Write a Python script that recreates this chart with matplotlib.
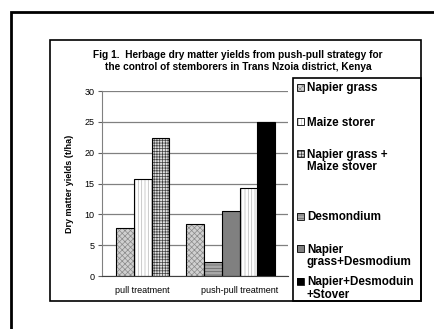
import matplotlib.pyplot as plt
from matplotlib.patches import Rectangle

plt.rcParams['font.family'] = ['Liberation Sans', 'DejaVu Sans']
plt.rcParams['hatch.linewidth'] = 0.5

# yields (t/ha) per treatment
pull_names = ["Napier grass", "Maize storer", "Napier grass + Maize stover"]
pull_vals = [7.8, 15.7, 22.4]
push_names = ["Napier grass", "Desmondium", "Napier grass+Desmodium",
              "Maize storer", "Napier+Desmoduin +Stover"]
push_vals = [8.4, 2.3, 10.6, 14.2, 24.9]
categories = ["pull treatment", "push-pull treatment"]

legend_keys = ["Napier grass", "Maize storer", "Napier grass + Maize stover",
               "Desmondium", "Napier grass+Desmodium", "Napier+Desmoduin +Stover"]
legend_lines = [["Napier grass"], ["Maize storer"], ["Napier grass +", "Maize stover"],
                ["Desmondium"], ["Napier", "grass+Desmodium"], ["Napier+Desmoduin", "+Stover"]]

# face colour, hatch, hatch colour
styles = {
    "Napier grass": ("#d0d0d0", "xxxxxx", "#8a8a8a"),
    "Maize storer": ("#ffffff", "|||||", "#b8b8b8"),
    "Napier grass + Maize stover": ("#e0e0e0", "++++++", "#404040"),
    "Desmondium": ("#a8a8a8", "-----", "#606060"),
    "Napier grass+Desmodium": ("#808080", "", "#808080"),
    "Napier+Desmoduin +Stover": ("#000000", "", "#000000"),
}

W, H = 435, 329
fig = plt.figure(figsize=(W / 100, H / 100), dpi=100)


def fx(px):
    return px / W


def fy(py):
    return 1 - py / H


# frames
fig.patches.append(Rectangle((fx(11), fy(340)), fx(440) - fx(11), fy(12) - fy(340),
                             transform=fig.transFigure, fill=False, lw=2.0, ec='black'))
fig.patches.append(Rectangle((fx(50), fy(301)), fx(421) - fx(50), fy(40) - fy(301),
                             transform=fig.transFigure, fill=False, lw=1.2, ec='black'))
fig.patches.append(Rectangle((fx(293), fy(301)), fx(421) - fx(293), fy(78) - fy(301),
                             transform=fig.transFigure, fill=False, lw=1.2, ec='black'))

ax = fig.add_axes([fx(101.7), fy(276), fx(288) - fx(101.7), fy(91) - fy(276)])

width = 0.19


def draw(start, names, vals):
    for i, (n, v) in enumerate(zip(names, vals)):
        face, hatch, hc = styles[n]
        x = start + i * width
        ax.bar(x, v, width, align='edge', color=face, hatch=hatch,
               edgecolor=hc, linewidth=0, zorder=2)
        ax.bar(x, v, width, align='edge', fill=False, edgecolor='black',
               linewidth=0.8, zorder=3)


draw(0.155, pull_names, pull_vals)
draw(0.91, push_names, push_vals)

ax.set_xlim(0, 2)
ax.set_ylim(0, 30)
ax.set_yticks(range(0, 31, 5))
ax.tick_params(axis='y', labelsize=6.5, length=3, width=0.8, color='#606060', pad=2)
ax.set_xticks([0.44, 1.48])
ax.set_xticklabels(categories, fontsize=6.5)
ax.tick_params(axis='x', length=0, pad=7)
ax.yaxis.grid(True, color='#808080', lw=0.9, zorder=0)
ax.set_axisbelow(True)
for s in ['top', 'right']:
    ax.spines[s].set_visible(False)
ax.spines['left'].set_color('#808080')
ax.spines['bottom'].set_color('#404040')
ax.set_ylabel("Dry matter yields (t/ha)", fontsize=6.5, fontweight='bold', labelpad=8)

fig.text(fx(238), fy(61), "Fig 1.  Herbage dry matter yields from push-pull strategy for\n"
         "the control of stemborers in Trans Nzoia district, Kenya",
         ha='center', va='center', fontsize=7.3, fontweight='bold', linespacing=1.2)

# legend, one text per line
cap_tops = [83, 117, 149, 212, 244, 277]
for key, lines, top in zip(legend_keys, legend_lines, cap_tops):
    face, hatch, hc = styles[key]
    s = 7
    cy = top + 4.5
    fig.patches.append(Rectangle((fx(297), fy(cy + s / 2)), fx(s), s / H,
                                 transform=fig.transFigure, facecolor=face, hatch=hatch,
                                 edgecolor=hc, lw=0))
    fig.patches.append(Rectangle((fx(297), fy(cy + s / 2)), fx(s), s / H,
                                 transform=fig.transFigure, fill=False, edgecolor='black', lw=0.6))
    for j, line in enumerate(lines):
        fig.text(fx(307), fy(top + 8.5 + 12 * j), line, ha='left', va='baseline',
                 fontsize=8.4, fontweight='bold')

fig.savefig("out.png", dpi=100)
